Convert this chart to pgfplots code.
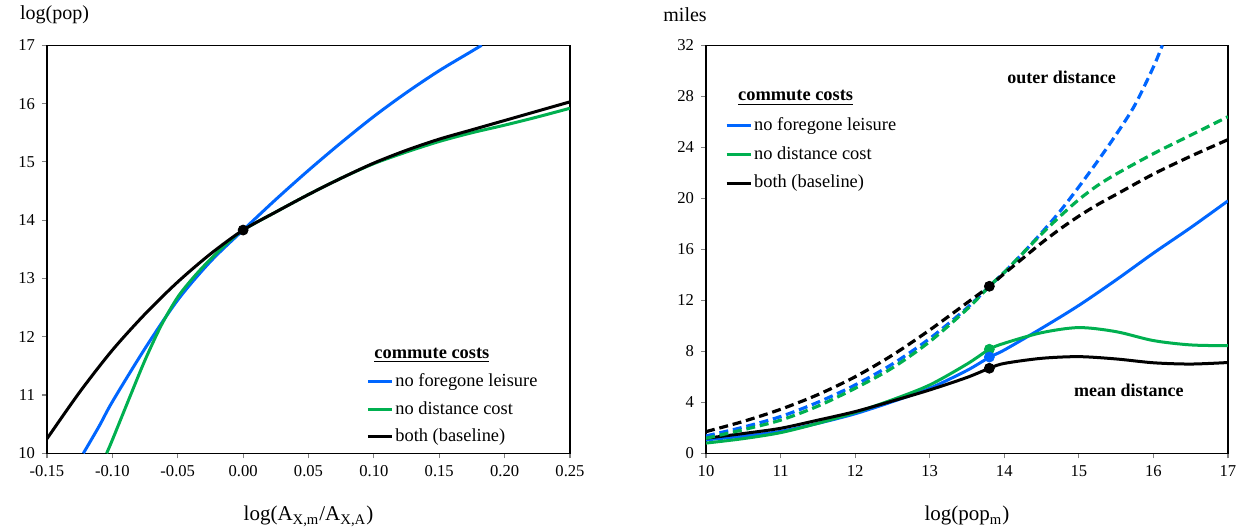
\documentclass[border=0pt]{standalone}
\usepackage{fontspec}
\setmainfont{Liberation Serif}
\usepackage{pgfplots}
\pgfplotsset{compat=1.18}
\definecolor{cblue}{RGB}{0,102,255}
\definecolor{cgreen}{RGB}{0,176,80}
\pgfplotsset{
 common/.style={
  scale only axis, height=204pt,
  axis line style={black, line width=0.8pt},
  tick style={gray, line width=0.6pt},
  tick align=outside, major tick length=2.5pt,
  xtick pos=bottom, ytick pos=left,
  tick label style={font=\fontsize{8.3}{9}\selectfont},
  /pgf/number format/assume math mode=true,
  label style={font=\fontsize{10.5}{12}\selectfont},
  xlabel style={yshift=-8pt},
  legend style={draw=none, fill=none, font=\fontsize{9.2}{10}\selectfont, inner sep=0pt,
    nodes={inner sep=1pt}},
  legend cell align=left,
  legend image code/.code={\draw[##1, line width=1.5pt] (0pt,0pt) -- (12pt,0pt);},
  clip mode=individual,
 }
}
\begin{document}
\begin{tikzpicture}
\path[use as bounding box] (-23.5pt,-38.85pt) rectangle (601.5pt,226.65pt);
% ---------------- left panel
\begin{axis}[common, width=261.5pt, at={(0pt,0pt)}, anchor=south west,
  xmin=-0.15, xmax=0.25, ymin=10, ymax=17,
  xtick={-0.15,-0.10,-0.05,0,0.05,0.10,0.15,0.20,0.25},
  xticklabels={-0.15,-0.10,-0.05,0.00,0.05,0.10,0.15,0.20,0.25},
  ytick={10,11,...,17},
  xlabel={log(A\textsubscript{X,m}/A\textsubscript{X,A})},
  legend style={at={(0.61,0.264)}, anchor=north west, row sep=4.0pt},
]
\addlegendimage{empty legend}
\addlegendentry{\hspace{-10.5pt}\underline{\textbf{commute costs}}}
\addplot[cblue, line width=1.5pt, smooth] coordinates {
(-0.1222,10) (-0.11,10.47) (-0.10,10.885) (-0.075,11.80) (-0.05,12.63) (-0.025,13.29) (0,13.83)
(0.025,14.355) (0.05,14.855) (0.075,15.33) (0.10,15.78) (0.125,16.19) (0.15,16.565) (0.175,16.9) (0.1824,17.0)};
\addlegendentry{no foregone leisure}
\addplot[cgreen, line width=1.5pt, smooth] coordinates {
(-0.1044,10) (-0.10,10.23) (-0.0866,10.97) (-0.075,11.6) (-0.0625,12.2) (-0.05,12.68) (-0.0375,13.03)
(-0.025,13.33) (-0.0125,13.6) (0,13.83) (0.025,14.14) (0.05,14.44) (0.075,14.72) (0.10,14.97)
(0.125,15.17) (0.15,15.35) (0.175,15.5) (0.20,15.63) (0.225,15.77) (0.25,15.92)};
\addlegendentry{no distance cost}
\addplot[black, line width=1.5pt, smooth] coordinates {
(-0.15,10.25) (-0.125,11.05) (-0.10,11.77) (-0.075,12.39) (-0.05,12.94) (-0.025,13.42) (0,13.83)
(0.025,14.14) (0.05,14.44) (0.075,14.72) (0.10,14.98) (0.125,15.2) (0.15,15.39) (0.175,15.55)
(0.20,15.71) (0.225,15.87) (0.25,16.03)};
\addlegendentry{both (baseline)}
\addplot[only marks, mark=*, mark size=2.5pt, black, forget plot] coordinates {(0,13.83)};
\node[anchor=west, font=\fontsize{10}{12}\selectfont] at (rel axis cs:-0.065,1.076) {log(pop)};
\end{axis}
% ---------------- right panel
\begin{axis}[common, width=261pt, at={(329.5pt,0pt)}, anchor=south west,
  xmin=10, xmax=17, ymin=0, ymax=32,
  xtick={10,11,...,17}, ytick={0,4,...,32},
  xlabel={log(pop\textsubscript{m})},
  legend style={at={(0.036,0.895)}, anchor=north west, row sep=4.6pt},
]
\addlegendimage{empty legend}
\addlegendentry{\hspace{-8pt}\underline{\textbf{commute costs}}}
\addplot[cblue, line width=1.5pt, smooth] coordinates {
(10,1.05) (10.5,1.35) (11,1.72) (11.5,2.35) (12,3.1) (12.5,4.05) (13,5.1) (13.5,6.5) (13.8,7.53)
(14,8.1) (14.5,9.8) (15,11.6) (15.5,13.6) (16,15.7) (16.5,17.7) (17,19.8)};
\addlegendentry{no foregone leisure}
\addplot[cgreen, line width=1.5pt, smooth] coordinates {
(10,0.8) (10.5,1.15) (11,1.62) (11.5,2.35) (12,3.2) (12.5,4.2) (13,5.36) (13.5,7.0) (13.8,8.16)
(14,8.63) (14.5,9.46) (15,9.86) (15.5,9.54) (16,8.84) (16.5,8.5) (17,8.44)};
\addlegendentry{no distance cost}
\addplot[black, line width=1.5pt, smooth] coordinates {
(10,1.18) (10.5,1.55) (11,1.96) (11.5,2.6) (12,3.27) (12.5,4.1) (13,4.97) (13.5,5.95) (13.8,6.67)
(14,7.05) (14.5,7.45) (15,7.58) (15.5,7.4) (16,7.1) (16.5,7.0) (17,7.12)};
\addlegendentry{both (baseline)}
\addplot[cblue, line width=1.6pt, dash pattern=on 4.5pt off 2.4pt, smooth, forget plot] coordinates {
(10,1.36) (10.5,2.05) (11,2.88) (11.5,4.0) (12,5.36) (12.5,7.0) (13,9.0) (13.5,11.4) (13.8,13.1)
(14,14.2) (14.25,15.7) (14.5,17.3) (14.75,19.0) (15,20.9) (15.25,22.9) (15.5,25.0) (15.75,27.3) (16,30.3) (16.12,32)};
\addplot[cgreen, line width=1.6pt, dash pattern=on 4.5pt off 2.4pt, smooth, forget plot] coordinates {
(10,1.18) (10.5,1.85) (11,2.6) (11.5,3.7) (12,5.1) (12.5,6.7) (13,8.76) (13.5,11.3) (13.8,13.1)
(14,14.2) (14.25,15.7) (14.5,17.2) (14.75,18.6) (15,19.9) (15.25,21.0) (15.5,21.9) (16,23.5) (16.5,24.95) (17,26.4)};
\addplot[black, line width=1.6pt, dash pattern=on 4.5pt off 2.4pt, smooth, forget plot] coordinates {
(10,1.7) (10.5,2.5) (11,3.45) (11.5,4.6) (12,6.0) (12.5,7.7) (13,9.67) (13.5,11.8) (13.8,13.1)
(14,14.1) (14.25,15.3) (14.5,16.5) (14.75,17.6) (15,18.6) (15.25,19.5) (15.5,20.3) (16,21.9) (16.5,23.3) (17,24.6)};
\addplot[only marks, mark=*, mark size=2.5pt, cgreen, forget plot] coordinates {(13.8,8.16)};
\addplot[only marks, mark=*, mark size=2.5pt, cblue, forget plot] coordinates {(13.8,7.55)};
\addplot[only marks, mark=*, mark size=2.5pt, black, forget plot] coordinates {(13.8,6.67) (13.8,13.1)};
\node[font=\bfseries\fontsize{9}{11}\selectfont] at (axis cs:14.77,29.5) {outer distance};
\node[font=\bfseries\fontsize{9}{11}\selectfont] at (axis cs:15.67,4.95) {mean distance};
\node[anchor=east, font=\fontsize{10}{12}\selectfont] at (rel axis cs:0.015,1.076) {miles};
\end{axis}
\end{tikzpicture}
\end{document}
